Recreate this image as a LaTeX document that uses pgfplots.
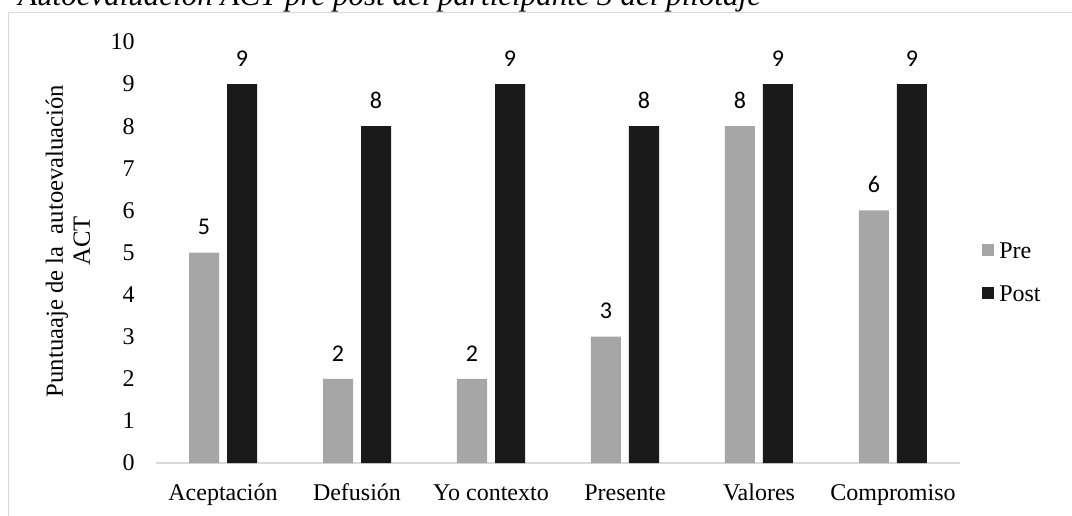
\documentclass[border=0pt]{standalone}
\usepackage{fontspec}
\setmainfont{Liberation Serif}
\newfontfamily\labelfont{Carlito}
\usepackage{pgfplots}
\pgfplotsset{compat=1.18}
\definecolor{preGray}{HTML}{A6A6A6}
\definecolor{postBlack}{HTML}{1A1A1A}
\definecolor{frameGray}{HTML}{D9D9D9}

\begin{document}
\begin{tikzpicture}
\useasboundingbox (0,0) rectangle (804pt,386.25pt);
% chart frame
\draw[frameGray, line width=0.75pt] (6.375pt,-20pt) -- (6.375pt,376.9pt) -- (830pt,376.9pt);
% figure title
\node[anchor=base west, inner sep=0pt, font=\fontsize{23.25}{28}\selectfont\itshape]
  at (13.5pt,381.75pt) {Autoevaluación ACT pre post del participante 3 del pilotaje};
% y axis title
\node[rotate=90, align=center, inner sep=0pt, font=\fontsize{18.5}{20.25}\selectfont]
  at (51pt,205.5pt) {Puntuaaje de la\ \ autoevaluación\\ACT};
\begin{axis}[
  at={(117pt,39pt)}, anchor=south west,
  scale only axis, width=603pt, height=315.75pt,
  ybar=6pt, bar width=22.5pt,
  xmin=-0.5, xmax=5.5, ymin=0, ymax=10,
  xtick={0,...,5},
  xticklabels={Aceptación, Defusión, Yo contexto, Presente, Valores, Compromiso},
  ytick={0,...,10},
  major tick length=0pt,
  axis x line*=bottom, axis y line*=left,
  x axis line style={-, draw=frameGray, line width=1.5pt},
  y axis line style={draw=none},
  tick label style={font=\fontsize{18}{21}\selectfont},
  xticklabel style={anchor=base, inner sep=0pt, yshift=-27.75pt},
  yticklabel style={anchor=east, inner sep=0pt, xshift=-15.75pt},
  /pgf/number format/assume math mode=true,
  nodes near coords,
  every node near coord/.append style={font=\labelfont\fontsize{18}{21}\selectfont, inner sep=0pt, yshift=13pt, black},
  legend cell align=left,
  legend style={at={(1.02736,0.5255)}, anchor=north west, draw=none, fill=none,
    inner sep=0pt, row sep=20.25pt, column sep=3.75pt,
    font=\fontsize{18}{21}\selectfont,
    nodes={inner sep=0pt, text height=12pt, text depth=0pt}},
  legend image code/.code={\fill[#1] (0pt,-4.5pt) rectangle (9pt,4.5pt);},
  clip=false,
]
\addplot[fill=preGray, draw=none] coordinates {(0,5) (1,2) (2,2) (3,3) (4,8) (5,6)};
\addplot[fill=postBlack, draw=none] coordinates {(0,9) (1,8) (2,9) (3,8) (4,9) (5,9)};
\legend{Pre, Post}
\end{axis}
\end{tikzpicture}
\end{document}
